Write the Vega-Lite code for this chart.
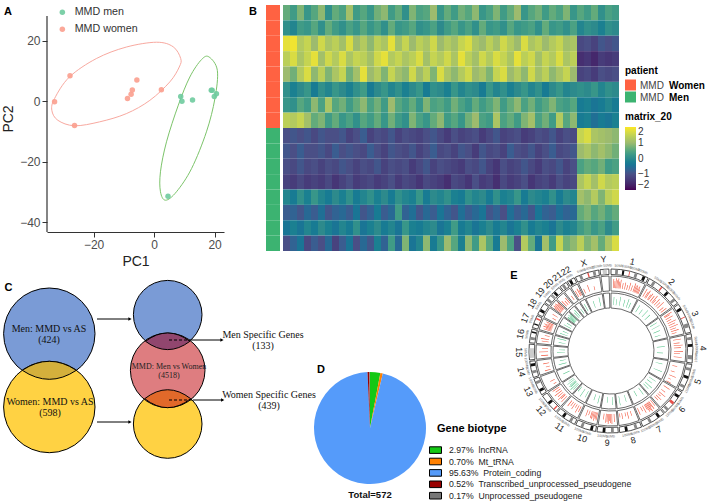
{"$schema":"https://vega.github.io/schema/vega-lite/v6.json","background":"white","padding":{"left":1,"top":2,"right":0,"bottom":0},"config":{"view":{"stroke":null},"font":"Liberation Sans"},"bounds":"flush","spacing":{"row":3,"column":0},"columns":7,"align":{"row":"each","column":"each"},"resolve":{"scale":{"fill":"independent","stroke":"independent","theta":"independent","radius":"independent"},"legend":{"fill":"independent","stroke":"independent"}},"datasets":{"chr":[{"n":"1","a":0,"b":27,"m":13.5,"o":13.5},{"n":"2","a":28,"b":54.3,"m":41.2,"o":41.2},{"n":"3","a":55.3,"b":76.8,"m":66,"o":66},{"n":"4","a":77.8,"b":98.5,"m":88.2,"o":88.2},{"n":"5","a":99.5,"b":119.2,"m":109.4,"o":-70.6},{"n":"6","a":120.2,"b":138.8,"m":129.5,"o":-50.5},{"n":"7","a":139.8,"b":157.1,"m":148.5,"o":-31.5},{"n":"8","a":158.1,"b":173.9,"m":166,"o":-14},{"n":"9","a":174.9,"b":189.9,"m":182.4,"o":2.4},{"n":"10","a":190.9,"b":205.5,"m":198.2,"o":18.2},{"n":"11","a":206.5,"b":221.2,"m":213.9,"o":33.9},{"n":"12","a":222.2,"b":236.7,"m":229.5,"o":49.5},{"n":"13","a":237.7,"b":250.1,"m":243.9,"o":63.9},{"n":"14","a":251.1,"b":262.7,"m":256.9,"o":76.9},{"n":"15","a":263.7,"b":274.8,"m":269.3,"o":89.3},{"n":"16","a":275.8,"b":285.6,"m":280.7,"o":-79.3},{"n":"17","a":286.6,"b":295.6,"m":291.1,"o":-68.9},{"n":"18","a":296.6,"b":305.3,"m":301,"o":-59},{"n":"19","a":306.3,"b":312.7,"m":309.5,"o":-50.5},{"n":"20","a":313.7,"b":320.7,"m":317.2,"o":-42.8},{"n":"21","a":321.7,"b":326.8,"m":324.3,"o":-35.7},{"n":"22","a":327.8,"b":333.3,"m":330.6,"o":-29.4},{"n":"X","a":334.3,"b":351.3,"m":342.8,"o":-17.2},{"n":"Y","a":352.3,"b":358.5,"m":355.4,"o":-4.6}]},"concat":[
{"width":177,"height":227,"layer":[
{"data":{"values":[{"g":"w","i":1,"x":8.8,"y":14.1},{"g":"w","i":1.5,"x":6.3,"y":18},{"g":"w","i":2,"x":0.8,"y":19.5},{"g":"w","i":3,"x":-9.2,"y":17.9},{"g":"w","i":4,"x":-19.1,"y":14.1},{"g":"w","i":5,"x":-28,"y":8},{"g":"w","i":6,"x":-32.9,"y":0.9},{"g":"w","i":7,"x":-33.8,"y":-3},{"g":"w","i":8,"x":-31.8,"y":-6.3},{"g":"w","i":9,"x":-26.3,"y":-8.1},{"g":"w","i":10,"x":-18,"y":-6.8},{"g":"w","i":11,"x":-9.2,"y":-4.1},{"g":"w","i":12,"x":-1.4,"y":0.3},{"g":"w","i":13,"x":5.2,"y":6.4},{"g":"w","i":14,"x":8.3,"y":11.3},{"g":"m","i":1,"x":18.2,"y":14.6},{"g":"m","i":2,"x":20.9,"y":10.2},{"g":"m","i":3,"x":20.1,"y":0.9},{"g":"m","i":4,"x":17.3,"y":-10.1},{"g":"m","i":5,"x":12.4,"y":-22.2},{"g":"m","i":6,"x":7.4,"y":-29.9},{"g":"m","i":7,"x":3.8,"y":-32.7},{"g":"m","i":8,"x":2.1,"y":-29.9},{"g":"m","i":9,"x":2.1,"y":-23.3},{"g":"m","i":10,"x":4.1,"y":-13.4},{"g":"m","i":11,"x":8,"y":-1.3},{"g":"m","i":12,"x":11.8,"y":8},{"g":"m","i":13,"x":15.7,"y":13.8}]},
"mark":{"type":"line","interpolate":"cardinal-closed","strokeWidth":1},
"encoding":{"x":{"field":"x","type":"quantitative","scale":{"domain":[-35.4,23.1]},"axis":{"values":[-20,0,20],"title":"PC1","grid":false,"domainColor":"#333","domainWidth":1.2,"tickColor":"#333","labelColor":"#4d4d4d","labelFontSize":12,"titleFontSize":14,"titleFontWeight":"normal","titleColor":"#222"}},"y":{"field":"y","type":"quantitative","scale":{"domain":[-43.2,31.8]},"axis":{"values":[-40,-20,0,20],"title":"PC2","grid":false,"domain":false,"tickColor":"#333","labelColor":"#4d4d4d","labelFontSize":12,"titleFontSize":14,"titleFontWeight":"normal","titleColor":"#222"}},"order":{"field":"i","type":"quantitative"},"stroke":{"field":"g","type":"nominal","scale":{"domain":["m","w"],"range":["#7CC46A","#F8A9A0"]},"legend":null}}},
{"data":{"values":[{"x":-35.4,"y":-43.2,"y2":28.2}]},"mark":{"type":"rule","color":"#333","strokeWidth":1.2},"encoding":{"x":{"field":"x","type":"quantitative","scale":{"domain":[-35.4,23.1]}},"y":{"field":"y","type":"quantitative","scale":{"domain":[-43.2,31.8]}},"y2":{"field":"y2"}}},
{"data":{"values":[{"g":"MMD women","x":-32.9,"y":-0.2},{"g":"MMD women","x":-27.8,"y":8.4},{"g":"MMD women","x":-26.3,"y":-8},{"g":"MMD women","x":-8.8,"y":0.9},{"g":"MMD women","x":-7.6,"y":2.3},{"g":"MMD women","x":-7.2,"y":3.7},{"g":"MMD women","x":-5.7,"y":7},{"g":"MMD women","x":2.4,"y":3.8},{"g":"MMD men","x":4.6,"y":-31.4},{"g":"MMD men","x":8.8,"y":1.6},{"g":"MMD men","x":9.2,"y":0},{"g":"MMD men","x":12.7,"y":0.4},{"g":"MMD men","x":18.9,"y":3.6},{"g":"MMD men","x":19.2,"y":3.6},{"g":"MMD men","x":20.6,"y":2.5},{"g":"MMD men","x":19.9,"y":1.6}]},
"mark":{"type":"point","filled":true,"size":30,"opacity":0.9},
"encoding":{"x":{"field":"x","type":"quantitative","scale":{"domain":[-35.4,23.1]}},"y":{"field":"y","type":"quantitative","scale":{"domain":[-43.2,31.8]}},"fill":{"field":"g","type":"nominal","scale":{"domain":["MMD men","MMD women"],"range":["#6FCB9F","#FB9F8E"]},"legend":{"orient":"none","legendX":10,"legendY":2,"title":null,"labelFontSize":10.7,"labelColor":"#333","symbolSize":30,"rowPadding":5,"labelOffset":7}}}},
{"data":{"values":[{"t":"A","x":-48.3,"y":29.6},{"t":"B","x":32.7,"y":29.6}]},"mark":{"type":"text","fontWeight":"bold","fontSize":11,"color":"black"},"encoding":{"x":{"field":"x","type":"quantitative","scale":{"domain":[-35.4,23.1]}},"y":{"field":"y","type":"quantitative","scale":{"domain":[-43.2,31.8]}},"text":{"field":"t"}}}
]},
{"width":42,"height":1,"data":{"values":[{"k":1}]},"mark":{"type":"point","opacity":0},"encoding":{}},
{"width":14,"height":246,"data":{"values":[{"r":1,"p":"w"},{"r":2,"p":"w"},{"r":3,"p":"w"},{"r":4,"p":"w"},{"r":5,"p":"w"},{"r":6,"p":"w"},{"r":7,"p":"w"},{"r":8,"p":"w"},{"r":9,"p":"m"},{"r":10,"p":"m"},{"r":11,"p":"m"},{"r":12,"p":"m"},{"r":13,"p":"m"},{"r":14,"p":"m"},{"r":15,"p":"m"},{"r":16,"p":"m"}]},"mark":"rect","encoding":{"y":{"field":"r","type":"ordinal","axis":null},"fill":{"field":"p","type":"nominal","scale":{"domain":["w","m"],"range":["#FF6242","#3CB371"]},"legend":null}}},
{"width":3,"height":1,"data":{"values":[{"k":1}]},"mark":{"type":"point","opacity":0},"encoding":{}},
{"width":336,"height":246,"data":{"values":[
{"r":1,"c":1,"v":0.6},{"r":1,"c":2,"v":0.3},{"r":1,"c":3,"v":0.8},{"r":1,"c":4,"v":0.2},{"r":1,"c":5,"v":0.5},{"r":1,"c":6,"v":0.9},{"r":1,"c":7,"v":0.1},{"r":1,"c":8,"v":0.6},{"r":1,"c":9,"v":0.4},{"r":1,"c":10,"v":1.1},{"r":1,"c":11,"v":0.3},{"r":1,"c":12,"v":0.5},{"r":1,"c":13,"v":0.2},{"r":1,"c":14,"v":0.7},{"r":1,"c":15,"v":0.9},{"r":1,"c":16,"v":0.3},{"r":1,"c":17,"v":0.6},{"r":1,"c":18,"v":0.1},{"r":1,"c":19,"v":0.8},{"r":1,"c":20,"v":0.4},{"r":1,"c":21,"v":0.5},{"r":1,"c":22,"v":1},{"r":1,"c":23,"v":0.2},{"r":1,"c":24,"v":0.6},{"r":1,"c":25,"v":0.3},{"r":1,"c":26,"v":0.7},{"r":1,"c":27,"v":0.5},{"r":1,"c":28,"v":0.9},{"r":1,"c":29,"v":0.2},{"r":1,"c":30,"v":0.4},{"r":1,"c":31,"v":0.8},{"r":1,"c":32,"v":0.3},{"r":1,"c":33,"v":0.6},{"r":1,"c":34,"v":1},{"r":1,"c":35,"v":0.2},{"r":1,"c":36,"v":0.5},{"r":1,"c":37,"v":0.7},{"r":1,"c":38,"v":0.3},{"r":1,"c":39,"v":0.6},{"r":1,"c":40,"v":0.4},{"r":1,"c":41,"v":0.8},{"r":1,"c":42,"v":0.2},{"r":1,"c":43,"v":0.5},{"r":1,"c":44,"v":0.3},{"r":1,"c":45,"v":0.6},{"r":1,"c":46,"v":0.1},{"r":1,"c":47,"v":0.4},{"r":1,"c":48,"v":0.3},
{"r":2,"c":1,"v":0.1},{"r":2,"c":2,"v":-0.1},{"r":2,"c":3,"v":0.3},{"r":2,"c":4,"v":0.2},{"r":2,"c":5,"v":0.5},{"r":2,"c":6,"v":0.1},{"r":2,"c":7,"v":0.6},{"r":2,"c":8,"v":0.3},{"r":2,"c":9,"v":0.1},{"r":2,"c":10,"v":0.4},{"r":2,"c":11,"v":0.2},{"r":2,"c":12,"v":0.5},{"r":2,"c":13,"v":0.2},{"r":2,"c":14,"v":0.4},{"r":2,"c":15,"v":0.1},{"r":2,"c":16,"v":0.6},{"r":2,"c":17,"v":0.2},{"r":2,"c":18,"v":0.3},{"r":2,"c":19,"v":0.5},{"r":2,"c":20,"v":0.1},{"r":2,"c":21,"v":0.2},{"r":2,"c":22,"v":0.4},{"r":2,"c":23,"v":0},{"r":2,"c":24,"v":0.3},{"r":2,"c":25,"v":0.5},{"r":2,"c":26,"v":0.2},{"r":2,"c":27,"v":0.4},{"r":2,"c":28,"v":0.1},{"r":2,"c":29,"v":0.6},{"r":2,"c":30,"v":0.2},{"r":2,"c":31,"v":0.3},{"r":2,"c":32,"v":0.1},{"r":2,"c":33,"v":0.5},{"r":2,"c":34,"v":0.2},{"r":2,"c":35,"v":0.3},{"r":2,"c":36,"v":0.4},{"r":2,"c":37,"v":0.1},{"r":2,"c":38,"v":0.6},{"r":2,"c":39,"v":0.2},{"r":2,"c":40,"v":0.3},{"r":2,"c":41,"v":0.1},{"r":2,"c":42,"v":0.4},{"r":2,"c":43,"v":-0.1},{"r":2,"c":44,"v":0.1},{"r":2,"c":45,"v":0},{"r":2,"c":46,"v":-0.2},{"r":2,"c":47,"v":0.1},{"r":2,"c":48,"v":0},
{"r":3,"c":1,"v":1.8},{"r":3,"c":2,"v":1.9},{"r":3,"c":3,"v":1.3},{"r":3,"c":4,"v":1.5},{"r":3,"c":5,"v":1},{"r":3,"c":6,"v":1.6},{"r":3,"c":7,"v":1.2},{"r":3,"c":8,"v":1.4},{"r":3,"c":9,"v":1.1},{"r":3,"c":10,"v":1.7},{"r":3,"c":11,"v":1},{"r":3,"c":12,"v":1.3},{"r":3,"c":13,"v":0.9},{"r":3,"c":14,"v":1.4},{"r":3,"c":15,"v":1.2},{"r":3,"c":16,"v":1.8},{"r":3,"c":17,"v":1.1},{"r":3,"c":18,"v":1.5},{"r":3,"c":19,"v":1},{"r":3,"c":20,"v":1.4},{"r":3,"c":21,"v":1.2},{"r":3,"c":22,"v":1.6},{"r":3,"c":23,"v":1},{"r":3,"c":24,"v":1.3},{"r":3,"c":25,"v":1.1},{"r":3,"c":26,"v":1.5},{"r":3,"c":27,"v":1.7},{"r":3,"c":28,"v":1.2},{"r":3,"c":29,"v":1},{"r":3,"c":30,"v":1.4},{"r":3,"c":31,"v":1.1},{"r":3,"c":32,"v":1.6},{"r":3,"c":33,"v":1.3},{"r":3,"c":34,"v":1},{"r":3,"c":35,"v":1.7},{"r":3,"c":36,"v":1.2},{"r":3,"c":37,"v":1.4},{"r":3,"c":38,"v":1},{"r":3,"c":39,"v":1.3},{"r":3,"c":40,"v":1.5},{"r":3,"c":41,"v":1.1},{"r":3,"c":42,"v":1.2},{"r":3,"c":43,"v":-1.1},{"r":3,"c":44,"v":-1},{"r":3,"c":45,"v":-1.2},{"r":3,"c":46,"v":-0.9},{"r":3,"c":47,"v":-1},{"r":3,"c":48,"v":-0.9},
{"r":4,"c":1,"v":1.4},{"r":4,"c":2,"v":1.7},{"r":4,"c":3,"v":1.2},{"r":4,"c":4,"v":1.5},{"r":4,"c":5,"v":1.8},{"r":4,"c":6,"v":1.1},{"r":4,"c":7,"v":1.6},{"r":4,"c":8,"v":1.3},{"r":4,"c":9,"v":1.7},{"r":4,"c":10,"v":1.2},{"r":4,"c":11,"v":1.5},{"r":4,"c":12,"v":1.4},{"r":4,"c":13,"v":1.1},{"r":4,"c":14,"v":1.6},{"r":4,"c":15,"v":1.8},{"r":4,"c":16,"v":1.3},{"r":4,"c":17,"v":1.5},{"r":4,"c":18,"v":1.2},{"r":4,"c":19,"v":1.4},{"r":4,"c":20,"v":1.7},{"r":4,"c":21,"v":1.1},{"r":4,"c":22,"v":1.5},{"r":4,"c":23,"v":1.3},{"r":4,"c":24,"v":1.6},{"r":4,"c":25,"v":1.2},{"r":4,"c":26,"v":1.8},{"r":4,"c":27,"v":1.4},{"r":4,"c":28,"v":1.1},{"r":4,"c":29,"v":1.6},{"r":4,"c":30,"v":1.3},{"r":4,"c":31,"v":1.7},{"r":4,"c":32,"v":1.5},{"r":4,"c":33,"v":1.2},{"r":4,"c":34,"v":1.8},{"r":4,"c":35,"v":1.4},{"r":4,"c":36,"v":1.6},{"r":4,"c":37,"v":1.1},{"r":4,"c":38,"v":1.5},{"r":4,"c":39,"v":1.3},{"r":4,"c":40,"v":1.7},{"r":4,"c":41,"v":1.2},{"r":4,"c":42,"v":1.4},{"r":4,"c":43,"v":-1.5},{"r":4,"c":44,"v":-1.4},{"r":4,"c":45,"v":-1.6},{"r":4,"c":46,"v":-1.3},{"r":4,"c":47,"v":-1.4},{"r":4,"c":48,"v":-1.3},
{"r":5,"c":1,"v":1},{"r":5,"c":2,"v":0.7},{"r":5,"c":3,"v":1.3},{"r":5,"c":4,"v":1.7},{"r":5,"c":5,"v":0.9},{"r":5,"c":6,"v":1.4},{"r":5,"c":7,"v":0.8},{"r":5,"c":8,"v":1.2},{"r":5,"c":9,"v":1.5},{"r":5,"c":10,"v":0.7},{"r":5,"c":11,"v":1.1},{"r":5,"c":12,"v":1.8},{"r":5,"c":13,"v":1},{"r":5,"c":14,"v":1.3},{"r":5,"c":15,"v":0.8},{"r":5,"c":16,"v":1.5},{"r":5,"c":17,"v":1.1},{"r":5,"c":18,"v":0.9},{"r":5,"c":19,"v":1.6},{"r":5,"c":20,"v":1},{"r":5,"c":21,"v":1.4},{"r":5,"c":22,"v":0.8},{"r":5,"c":23,"v":1.7},{"r":5,"c":24,"v":1.2},{"r":5,"c":25,"v":0.9},{"r":5,"c":26,"v":1.3},{"r":5,"c":27,"v":1.6},{"r":5,"c":28,"v":1},{"r":5,"c":29,"v":1.2},{"r":5,"c":30,"v":0.8},{"r":5,"c":31,"v":1.5},{"r":5,"c":32,"v":1.7},{"r":5,"c":33,"v":1},{"r":5,"c":34,"v":1.3},{"r":5,"c":35,"v":0.9},{"r":5,"c":36,"v":1.6},{"r":5,"c":37,"v":1.1},{"r":5,"c":38,"v":1.4},{"r":5,"c":39,"v":0.9},{"r":5,"c":40,"v":1.2},{"r":5,"c":41,"v":1.5},{"r":5,"c":42,"v":1},{"r":5,"c":43,"v":-1.2},{"r":5,"c":44,"v":-1.1},{"r":5,"c":45,"v":-1.3},{"r":5,"c":46,"v":-1},{"r":5,"c":47,"v":-1.1},{"r":5,"c":48,"v":-1},
{"r":6,"c":1,"v":0.1},{"r":6,"c":2,"v":-0.2},{"r":6,"c":3,"v":0},{"r":6,"c":4,"v":0.2},{"r":6,"c":5,"v":-0.3},{"r":6,"c":6,"v":0.1},{"r":6,"c":7,"v":-0.1},{"r":6,"c":8,"v":0.2},{"r":6,"c":9,"v":0},{"r":6,"c":10,"v":-0.2},{"r":6,"c":11,"v":0.1},{"r":6,"c":12,"v":0.3},{"r":6,"c":13,"v":-0.3},{"r":6,"c":14,"v":0},{"r":6,"c":15,"v":0.2},{"r":6,"c":16,"v":-0.1},{"r":6,"c":17,"v":0.1},{"r":6,"c":18,"v":-0.2},{"r":6,"c":19,"v":0},{"r":6,"c":20,"v":0.2},{"r":6,"c":21,"v":-0.3},{"r":6,"c":22,"v":0.1},{"r":6,"c":23,"v":0},{"r":6,"c":24,"v":-0.2},{"r":6,"c":25,"v":0.2},{"r":6,"c":26,"v":-0.1},{"r":6,"c":27,"v":0.1},{"r":6,"c":28,"v":0},{"r":6,"c":29,"v":-0.3},{"r":6,"c":30,"v":0.2},{"r":6,"c":31,"v":-0.1},{"r":6,"c":32,"v":0.1},{"r":6,"c":33,"v":-0.2},{"r":6,"c":34,"v":0},{"r":6,"c":35,"v":0.2},{"r":6,"c":36,"v":-0.1},{"r":6,"c":37,"v":0.1},{"r":6,"c":38,"v":-0.3},{"r":6,"c":39,"v":0},{"r":6,"c":40,"v":0.2},{"r":6,"c":41,"v":-0.1},{"r":6,"c":42,"v":0},{"r":6,"c":43,"v":0.1},{"r":6,"c":44,"v":0},{"r":6,"c":45,"v":0.2},{"r":6,"c":46,"v":-0.1},{"r":6,"c":47,"v":0.1},{"r":6,"c":48,"v":0},
{"r":7,"c":1,"v":0.2},{"r":7,"c":2,"v":0.1},{"r":7,"c":3,"v":0.5},{"r":7,"c":4,"v":0.3},{"r":7,"c":5,"v":0.9},{"r":7,"c":6,"v":0.4},{"r":7,"c":7,"v":1.2},{"r":7,"c":8,"v":0.5},{"r":7,"c":9,"v":0.7},{"r":7,"c":10,"v":0.3},{"r":7,"c":11,"v":0.6},{"r":7,"c":12,"v":0.9},{"r":7,"c":13,"v":0.4},{"r":7,"c":14,"v":0.7},{"r":7,"c":15,"v":0.3},{"r":7,"c":16,"v":1},{"r":7,"c":17,"v":0.5},{"r":7,"c":18,"v":0.3},{"r":7,"c":19,"v":0.6},{"r":7,"c":20,"v":0.2},{"r":7,"c":21,"v":0.8},{"r":7,"c":22,"v":0.4},{"r":7,"c":23,"v":0.5},{"r":7,"c":24,"v":0.3},{"r":7,"c":25,"v":0.7},{"r":7,"c":26,"v":0.4},{"r":7,"c":27,"v":0.2},{"r":7,"c":28,"v":0.6},{"r":7,"c":29,"v":0.3},{"r":7,"c":30,"v":0.5},{"r":7,"c":31,"v":0.8},{"r":7,"c":32,"v":0.3},{"r":7,"c":33,"v":0.6},{"r":7,"c":34,"v":0.9},{"r":7,"c":35,"v":0.4},{"r":7,"c":36,"v":0.7},{"r":7,"c":37,"v":0.3},{"r":7,"c":38,"v":0.5},{"r":7,"c":39,"v":0.8},{"r":7,"c":40,"v":0.4},{"r":7,"c":41,"v":0.3},{"r":7,"c":42,"v":0.5},{"r":7,"c":43,"v":-0.3},{"r":7,"c":44,"v":-0.2},{"r":7,"c":45,"v":-0.4},{"r":7,"c":46,"v":-0.3},{"r":7,"c":47,"v":-0.1},{"r":7,"c":48,"v":-0.3},
{"r":8,"c":1,"v":1.4},{"r":8,"c":2,"v":1.3},{"r":8,"c":3,"v":1.5},{"r":8,"c":4,"v":1.1},{"r":8,"c":5,"v":0.6},{"r":8,"c":6,"v":0.8},{"r":8,"c":7,"v":0.3},{"r":8,"c":8,"v":0.6},{"r":8,"c":9,"v":0.2},{"r":8,"c":10,"v":0.4},{"r":8,"c":11,"v":0.1},{"r":8,"c":12,"v":0.5},{"r":8,"c":13,"v":0.3},{"r":8,"c":14,"v":0.6},{"r":8,"c":15,"v":0.2},{"r":8,"c":16,"v":0.7},{"r":8,"c":17,"v":0.3},{"r":8,"c":18,"v":0.1},{"r":8,"c":19,"v":0.8},{"r":8,"c":20,"v":0.4},{"r":8,"c":21,"v":0.2},{"r":8,"c":22,"v":0.6},{"r":8,"c":23,"v":0.9},{"r":8,"c":24,"v":0.3},{"r":8,"c":25,"v":0.5},{"r":8,"c":26,"v":0.2},{"r":8,"c":27,"v":0.7},{"r":8,"c":28,"v":1},{"r":8,"c":29,"v":0.4},{"r":8,"c":30,"v":0.3},{"r":8,"c":31,"v":1.2},{"r":8,"c":32,"v":0.4},{"r":8,"c":33,"v":0.6},{"r":8,"c":34,"v":0.3},{"r":8,"c":35,"v":0.8},{"r":8,"c":36,"v":1.1},{"r":8,"c":37,"v":0.4},{"r":8,"c":38,"v":0.7},{"r":8,"c":39,"v":0.3},{"r":8,"c":40,"v":1.3},{"r":8,"c":41,"v":0.5},{"r":8,"c":42,"v":0.9},{"r":8,"c":43,"v":-0.3},{"r":8,"c":44,"v":-0.2},{"r":8,"c":45,"v":-0.5},{"r":8,"c":46,"v":-0.3},{"r":8,"c":47,"v":-0.4},{"r":8,"c":48,"v":-0.2},
{"r":9,"c":1,"v":-1},{"r":9,"c":2,"v":-0.9},{"r":9,"c":3,"v":-1},{"r":9,"c":4,"v":-0.9},{"r":9,"c":5,"v":-1.1},{"r":9,"c":6,"v":-0.9},{"r":9,"c":7,"v":-1},{"r":9,"c":8,"v":-1},{"r":9,"c":9,"v":-0.9},{"r":9,"c":10,"v":-1.2},{"r":9,"c":11,"v":-1},{"r":9,"c":12,"v":-0.8},{"r":9,"c":13,"v":-1.2},{"r":9,"c":14,"v":-1},{"r":9,"c":15,"v":-1.1},{"r":9,"c":16,"v":-0.9},{"r":9,"c":17,"v":-1.2},{"r":9,"c":18,"v":-1},{"r":9,"c":19,"v":-1.1},{"r":9,"c":20,"v":-1.2},{"r":9,"c":21,"v":-1},{"r":9,"c":22,"v":-0.9},{"r":9,"c":23,"v":-1.1},{"r":9,"c":24,"v":-1.3},{"r":9,"c":25,"v":-1},{"r":9,"c":26,"v":-1.2},{"r":9,"c":27,"v":-1.1},{"r":9,"c":28,"v":-1},{"r":9,"c":29,"v":-1.3},{"r":9,"c":30,"v":-1.1},{"r":9,"c":31,"v":-0.9},{"r":9,"c":32,"v":-1.2},{"r":9,"c":33,"v":-1.1},{"r":9,"c":34,"v":-1},{"r":9,"c":35,"v":-1.3},{"r":9,"c":36,"v":-1.2},{"r":9,"c":37,"v":-1},{"r":9,"c":38,"v":-1.1},{"r":9,"c":39,"v":-0.9},{"r":9,"c":40,"v":-1.2},{"r":9,"c":41,"v":-1},{"r":9,"c":42,"v":-1.1},{"r":9,"c":43,"v":1.5},{"r":9,"c":44,"v":1.7},{"r":9,"c":45,"v":1.2},{"r":9,"c":46,"v":1.1},{"r":9,"c":47,"v":1},{"r":9,"c":48,"v":0.9},
{"r":10,"c":1,"v":-0.9},{"r":10,"c":2,"v":-1},{"r":10,"c":3,"v":-0.8},{"r":10,"c":4,"v":-1},{"r":10,"c":5,"v":-1},{"r":10,"c":6,"v":-0.9},{"r":10,"c":7,"v":-1.1},{"r":10,"c":8,"v":-0.8},{"r":10,"c":9,"v":-1},{"r":10,"c":10,"v":-0.9},{"r":10,"c":11,"v":-1},{"r":10,"c":12,"v":-1.1},{"r":10,"c":13,"v":-0.8},{"r":10,"c":14,"v":-1},{"r":10,"c":15,"v":-1.2},{"r":10,"c":16,"v":-0.9},{"r":10,"c":17,"v":-1},{"r":10,"c":18,"v":-1.1},{"r":10,"c":19,"v":-0.9},{"r":10,"c":20,"v":-1.2},{"r":10,"c":21,"v":-1},{"r":10,"c":22,"v":-0.8},{"r":10,"c":23,"v":-1.1},{"r":10,"c":24,"v":-1},{"r":10,"c":25,"v":-1.2},{"r":10,"c":26,"v":-0.9},{"r":10,"c":27,"v":-1},{"r":10,"c":28,"v":-1.3},{"r":10,"c":29,"v":-0.9},{"r":10,"c":30,"v":-1.1},{"r":10,"c":31,"v":-1},{"r":10,"c":32,"v":-1.2},{"r":10,"c":33,"v":-0.8},{"r":10,"c":34,"v":-1},{"r":10,"c":35,"v":-1.1},{"r":10,"c":36,"v":-0.9},{"r":10,"c":37,"v":-1.2},{"r":10,"c":38,"v":-1},{"r":10,"c":39,"v":-0.8},{"r":10,"c":40,"v":-1.1},{"r":10,"c":41,"v":-1},{"r":10,"c":42,"v":-0.9},{"r":10,"c":43,"v":1},{"r":10,"c":44,"v":1.2},{"r":10,"c":45,"v":0.9},{"r":10,"c":46,"v":1.1},{"r":10,"c":47,"v":0.9},{"r":10,"c":48,"v":0.7},
{"r":11,"c":1,"v":-1},{"r":11,"c":2,"v":-1.1},{"r":11,"c":3,"v":-0.9},{"r":11,"c":4,"v":-1.1},{"r":11,"c":5,"v":-1},{"r":11,"c":6,"v":-1.2},{"r":11,"c":7,"v":-1},{"r":11,"c":8,"v":-1.1},{"r":11,"c":9,"v":-0.9},{"r":11,"c":10,"v":-1},{"r":11,"c":11,"v":-1.2},{"r":11,"c":12,"v":-1},{"r":11,"c":13,"v":-1.1},{"r":11,"c":14,"v":-0.9},{"r":11,"c":15,"v":-1.2},{"r":11,"c":16,"v":-1},{"r":11,"c":17,"v":-1.1},{"r":11,"c":18,"v":-1},{"r":11,"c":19,"v":-1.3},{"r":11,"c":20,"v":-1.1},{"r":11,"c":21,"v":-0.9},{"r":11,"c":22,"v":-1.2},{"r":11,"c":23,"v":-1},{"r":11,"c":24,"v":-1.1},{"r":11,"c":25,"v":-1.2},{"r":11,"c":26,"v":-1.3},{"r":11,"c":27,"v":-1},{"r":11,"c":28,"v":-1.1},{"r":11,"c":29,"v":-0.9},{"r":11,"c":30,"v":-1.2},{"r":11,"c":31,"v":-1.4},{"r":11,"c":32,"v":-1},{"r":11,"c":33,"v":-1.2},{"r":11,"c":34,"v":-1.1},{"r":11,"c":35,"v":-0.9},{"r":11,"c":36,"v":-1.1},{"r":11,"c":37,"v":-1.3},{"r":11,"c":38,"v":-1},{"r":11,"c":39,"v":-1.1},{"r":11,"c":40,"v":-0.9},{"r":11,"c":41,"v":-1.2},{"r":11,"c":42,"v":-1},{"r":11,"c":43,"v":0.4},{"r":11,"c":44,"v":0.6},{"r":11,"c":45,"v":0.5},{"r":11,"c":46,"v":0.7},{"r":11,"c":47,"v":0.3},{"r":11,"c":48,"v":0.4},
{"r":12,"c":1,"v":-1.2},{"r":12,"c":2,"v":-1.3},{"r":12,"c":3,"v":-1.1},{"r":12,"c":4,"v":-1.3},{"r":12,"c":5,"v":-1.2},{"r":12,"c":6,"v":-1.3},{"r":12,"c":7,"v":-1.1},{"r":12,"c":8,"v":-1.4},{"r":12,"c":9,"v":-1.2},{"r":12,"c":10,"v":-1},{"r":12,"c":11,"v":-1.3},{"r":12,"c":12,"v":-1.2},{"r":12,"c":13,"v":-1.1},{"r":12,"c":14,"v":-1.3},{"r":12,"c":15,"v":-1.2},{"r":12,"c":16,"v":-1},{"r":12,"c":17,"v":-1.3},{"r":12,"c":18,"v":-1.1},{"r":12,"c":19,"v":-1.2},{"r":12,"c":20,"v":-1.4},{"r":12,"c":21,"v":-1.1},{"r":12,"c":22,"v":-1.2},{"r":12,"c":23,"v":-1.3},{"r":12,"c":24,"v":-1.5},{"r":12,"c":25,"v":-1.1},{"r":12,"c":26,"v":-1.2},{"r":12,"c":27,"v":-1.4},{"r":12,"c":28,"v":-1},{"r":12,"c":29,"v":-1.3},{"r":12,"c":30,"v":-1.2},{"r":12,"c":31,"v":-1.5},{"r":12,"c":32,"v":-1.1},{"r":12,"c":33,"v":-1.3},{"r":12,"c":34,"v":-1.2},{"r":12,"c":35,"v":-1},{"r":12,"c":36,"v":-1.4},{"r":12,"c":37,"v":-1.2},{"r":12,"c":38,"v":-1.1},{"r":12,"c":39,"v":-1.3},{"r":12,"c":40,"v":-1},{"r":12,"c":41,"v":-1.2},{"r":12,"c":42,"v":-1.1},{"r":12,"c":43,"v":1.2},{"r":12,"c":44,"v":1.5},{"r":12,"c":45,"v":1.1},{"r":12,"c":46,"v":1.6},{"r":12,"c":47,"v":1.3},{"r":12,"c":48,"v":1.4},
{"r":13,"c":1,"v":-0.1},{"r":13,"c":2,"v":-0.3},{"r":13,"c":3,"v":0.1},{"r":13,"c":4,"v":-0.2},{"r":13,"c":5,"v":0.2},{"r":13,"c":6,"v":-0.1},{"r":13,"c":7,"v":-0.3},{"r":13,"c":8,"v":0},{"r":13,"c":9,"v":-0.2},{"r":13,"c":10,"v":0.1},{"r":13,"c":11,"v":-0.3},{"r":13,"c":12,"v":-0.1},{"r":13,"c":13,"v":0.1},{"r":13,"c":14,"v":-0.2},{"r":13,"c":15,"v":0},{"r":13,"c":16,"v":-0.3},{"r":13,"c":17,"v":0.1},{"r":13,"c":18,"v":-0.1},{"r":13,"c":19,"v":-0.2},{"r":13,"c":20,"v":0.2},{"r":13,"c":21,"v":-0.3},{"r":13,"c":22,"v":0},{"r":13,"c":23,"v":-0.1},{"r":13,"c":24,"v":0.1},{"r":13,"c":25,"v":-0.2},{"r":13,"c":26,"v":-0.3},{"r":13,"c":27,"v":0.1},{"r":13,"c":28,"v":-0.1},{"r":13,"c":29,"v":0},{"r":13,"c":30,"v":-0.3},{"r":13,"c":31,"v":0.1},{"r":13,"c":32,"v":-0.2},{"r":13,"c":33,"v":-0.1},{"r":13,"c":34,"v":0.2},{"r":13,"c":35,"v":-0.3},{"r":13,"c":36,"v":0},{"r":13,"c":37,"v":-0.1},{"r":13,"c":38,"v":-0.2},{"r":13,"c":39,"v":0.1},{"r":13,"c":40,"v":-0.3},{"r":13,"c":41,"v":0},{"r":13,"c":42,"v":-0.1},{"r":13,"c":43,"v":1.1},{"r":13,"c":44,"v":0.9},{"r":13,"c":45,"v":1.3},{"r":13,"c":46,"v":0.8},{"r":13,"c":47,"v":1.4},{"r":13,"c":48,"v":1.6},
{"r":14,"c":1,"v":-0.8},{"r":14,"c":2,"v":-0.7},{"r":14,"c":3,"v":-0.9},{"r":14,"c":4,"v":-0.6},{"r":14,"c":5,"v":-0.8},{"r":14,"c":6,"v":-0.5},{"r":14,"c":7,"v":-0.9},{"r":14,"c":8,"v":-0.7},{"r":14,"c":9,"v":-0.6},{"r":14,"c":10,"v":-0.8},{"r":14,"c":11,"v":-0.4},{"r":14,"c":12,"v":-0.9},{"r":14,"c":13,"v":-0.7},{"r":14,"c":14,"v":-0.3},{"r":14,"c":15,"v":-0.8},{"r":14,"c":16,"v":-0.6},{"r":14,"c":17,"v":0.3},{"r":14,"c":18,"v":-0.7},{"r":14,"c":19,"v":-0.5},{"r":14,"c":20,"v":-0.9},{"r":14,"c":21,"v":-0.6},{"r":14,"c":22,"v":-0.8},{"r":14,"c":23,"v":-0.4},{"r":14,"c":24,"v":-0.7},{"r":14,"c":25,"v":-0.9},{"r":14,"c":26,"v":-0.5},{"r":14,"c":27,"v":-0.8},{"r":14,"c":28,"v":-0.6},{"r":14,"c":29,"v":-0.4},{"r":14,"c":30,"v":-0.9},{"r":14,"c":31,"v":-0.7},{"r":14,"c":32,"v":-1},{"r":14,"c":33,"v":-0.5},{"r":14,"c":34,"v":-0.8},{"r":14,"c":35,"v":-0.6},{"r":14,"c":36,"v":-0.9},{"r":14,"c":37,"v":-0.4},{"r":14,"c":38,"v":-0.7},{"r":14,"c":39,"v":-0.8},{"r":14,"c":40,"v":-0.5},{"r":14,"c":41,"v":-0.7},{"r":14,"c":42,"v":-0.6},{"r":14,"c":43,"v":0.6},{"r":14,"c":44,"v":0.8},{"r":14,"c":45,"v":0.5},{"r":14,"c":46,"v":0.7},{"r":14,"c":47,"v":0.4},{"r":14,"c":48,"v":0.6},
{"r":15,"c":1,"v":-0.4},{"r":15,"c":2,"v":-0.2},{"r":15,"c":3,"v":-0.4},{"r":15,"c":4,"v":-0.1},{"r":15,"c":5,"v":-0.3},{"r":15,"c":6,"v":0},{"r":15,"c":7,"v":-0.2},{"r":15,"c":8,"v":-0.4},{"r":15,"c":9,"v":-0.1},{"r":15,"c":10,"v":-0.3},{"r":15,"c":11,"v":0.1},{"r":15,"c":12,"v":-0.4},{"r":15,"c":13,"v":-0.2},{"r":15,"c":14,"v":0},{"r":15,"c":15,"v":-0.3},{"r":15,"c":16,"v":-0.1},{"r":15,"c":17,"v":-0.4},{"r":15,"c":18,"v":0.2},{"r":15,"c":19,"v":-0.2},{"r":15,"c":20,"v":-0.3},{"r":15,"c":21,"v":-0.1},{"r":15,"c":22,"v":0},{"r":15,"c":23,"v":-0.4},{"r":15,"c":24,"v":-0.2},{"r":15,"c":25,"v":0.3},{"r":15,"c":26,"v":-0.3},{"r":15,"c":27,"v":-0.1},{"r":15,"c":28,"v":-0.4},{"r":15,"c":29,"v":-0.2},{"r":15,"c":30,"v":0},{"r":15,"c":31,"v":-0.3},{"r":15,"c":32,"v":-0.1},{"r":15,"c":33,"v":-0.4},{"r":15,"c":34,"v":-0.2},{"r":15,"c":35,"v":0.1},{"r":15,"c":36,"v":-0.3},{"r":15,"c":37,"v":-0.1},{"r":15,"c":38,"v":-0.2},{"r":15,"c":39,"v":-0.4},{"r":15,"c":40,"v":0},{"r":15,"c":41,"v":-0.2},{"r":15,"c":42,"v":-0.1},{"r":15,"c":43,"v":0.3},{"r":15,"c":44,"v":0.5},{"r":15,"c":45,"v":0.2},{"r":15,"c":46,"v":0.4},{"r":15,"c":47,"v":0},{"r":15,"c":48,"v":0.3},
{"r":16,"c":1,"v":-1},{"r":16,"c":2,"v":-0.7},{"r":16,"c":3,"v":-0.4},{"r":16,"c":4,"v":-1.1},{"r":16,"c":5,"v":-0.8},{"r":16,"c":6,"v":-1},{"r":16,"c":7,"v":-0.6},{"r":16,"c":8,"v":-1.2},{"r":16,"c":9,"v":-0.8},{"r":16,"c":10,"v":-0.4},{"r":16,"c":11,"v":-1},{"r":16,"c":12,"v":-0.6},{"r":16,"c":13,"v":-0.9},{"r":16,"c":14,"v":-0.2},{"r":16,"c":15,"v":-0.7},{"r":16,"c":16,"v":0.3},{"r":16,"c":17,"v":-0.6},{"r":16,"c":18,"v":0.8},{"r":16,"c":19,"v":-0.4},{"r":16,"c":20,"v":-0.1},{"r":16,"c":21,"v":0.9},{"r":16,"c":22,"v":-0.3},{"r":16,"c":23,"v":0.2},{"r":16,"c":24,"v":1},{"r":16,"c":25,"v":0.5},{"r":16,"c":26,"v":-0.2},{"r":16,"c":27,"v":0.9},{"r":16,"c":28,"v":0.3},{"r":16,"c":29,"v":1.2},{"r":16,"c":30,"v":0.5},{"r":16,"c":31,"v":-0.3},{"r":16,"c":32,"v":1},{"r":16,"c":33,"v":0.4},{"r":16,"c":34,"v":-1},{"r":16,"c":35,"v":1.3},{"r":16,"c":36,"v":0.6},{"r":16,"c":37,"v":-0.4},{"r":16,"c":38,"v":1.1},{"r":16,"c":39,"v":0.3},{"r":16,"c":40,"v":1.5},{"r":16,"c":41,"v":0.7},{"r":16,"c":42,"v":0.9},{"r":16,"c":43,"v":1.4},{"r":16,"c":44,"v":0.8},{"r":16,"c":45,"v":1.1},{"r":16,"c":46,"v":0.6},{"r":16,"c":47,"v":1.2},{"r":16,"c":48,"v":1.7}
]},"mark":"rect","encoding":{"x":{"field":"c","type":"ordinal","axis":null},"y":{"field":"r","type":"ordinal","axis":null},"fill":{"field":"v","type":"quantitative","scale":{"domain":[-2,-1,0,1,2],"range":["#440154","#4a4f86","#2d8a8c","#9dbb6e","#fde725"]},"legend":{"orient":"none","legendX":342,"legendY":107,"title":"matrix_20","titleFontSize":10,"titleFontWeight":"bold","titleColor":"black","titlePadding":5,"gradientLength":63,"gradientThickness":11,"values":[-2,-1,0,1,2],"labelFontSize":10,"labelColor":"#333","gradientStrokeColor":"#ccc"}}}},
{"width":3,"height":1,"data":{"values":[{"k":1}]},"mark":{"type":"point","opacity":0},"encoding":{}},
{"width":86,"height":246,"encoding":{"x":{"field":"x","type":"quantitative","scale":{"domain":[622,708]},"axis":null},"y":{"field":"y","type":"quantitative","scale":{"domain":[249,3]},"axis":null}},"layer":[
{"data":{"values":[{"x":630.5,"y":83,"p":"w"},{"x":630.5,"y":95,"p":"m"}]},"mark":{"type":"point","shape":"square","filled":true,"size":121,"opacity":1},"encoding":{"fill":{"field":"p","type":"nominal","scale":{"domain":["w","m"],"range":["#FF6242","#3CB371"]},"legend":null}}},
{"data":{"values":[{"x":640,"y":84,"t":"MMD"},{"x":640,"y":96,"t":"MMD"}]},"mark":{"type":"text","align":"left","fontSize":10,"color":"#444"},"encoding":{"text":{"field":"t"}}},
{"data":{"values":[{"x":669,"y":84,"t":"Women"},{"x":669,"y":96,"t":"Men"},{"x":625,"y":69,"t":"patient"}]},"mark":{"type":"text","align":"left","fontSize":10,"fontWeight":"bold","color":"black"},"encoding":{"text":{"field":"t"}}}
]},
{"width":177,"height":250,"encoding":{"x":{"field":"x","type":"quantitative","scale":{"domain":[47,224]},"axis":null},"y":{"field":"y","type":"quantitative","scale":{"domain":[502,252]},"axis":null},"fill":{"field":"set","type":"nominal","scale":{"domain":["blue","yellow","red","lensL","lensT","lensB"],"range":["#7A9BD6","#FFD243","#DE7D80","#D4B03C","#91466E","#E1692A"]},"legend":null}},"layer":[
{"data":{"values":[{"x":49.3,"y":331.7,"set":"blue"},{"x":49.3,"y":405,"set":"yellow"}]},"mark":{"type":"point","shape":"circle","filled":true,"size":8354,"opacity":1,"stroke":"black","strokeWidth":1}},
{"data":{"values":[{"x":49.3,"y":368.3,"set":"lensL"}]},"mark":{"type":"point","shape":"M-1,0Q0,-0.667,1,0Q0,0.667,-1,0Z","filled":true,"size":2916,"opacity":1,"stroke":"black","strokeWidth":1}},
{"data":{"values":[{"x":167.7,"y":312.7,"set":"blue"},{"x":167.7,"y":422,"set":"yellow"}]},"mark":{"type":"point","shape":"circle","filled":true,"size":4706,"opacity":1,"stroke":"black","strokeWidth":1}},
{"data":{"values":[{"x":167.7,"y":368.3,"set":"red"}]},"mark":{"type":"point","shape":"circle","filled":true,"size":5565,"opacity":1,"stroke":"black","strokeWidth":1}},
{"data":{"values":[{"x":167.7,"y":339.3,"set":"lensT"}]},"mark":{"type":"point","shape":"M-1,0Q0,-0.75,1,0Q0,0.75,-1,0Z","filled":true,"size":1971,"opacity":1,"stroke":"black","strokeWidth":1}},
{"data":{"values":[{"x":167.7,"y":396.7,"set":"lensB"}]},"mark":{"type":"point","shape":"M-1,0Q0,-0.78,1,0Q0,0.78,-1,0Z","filled":true,"size":2116,"opacity":1,"stroke":"black","strokeWidth":1}},
{"data":{"values":[{"x":97,"x2":130,"y":317},{"x":97,"x2":130,"y":420},{"x":190,"x2":222,"y":338},{"x":193,"x2":222.7,"y":398}]},"mark":{"type":"rule","color":"black","strokeWidth":1},"encoding":{"x2":{"field":"x2"},"fill":{"value":null}}},
{"data":{"values":[{"x":169,"x2":190,"y":338},{"x":169,"x2":193,"y":398}]},"mark":{"type":"rule","color":"black","strokeWidth":1,"strokeDash":[3,2]},"encoding":{"x2":{"field":"x2"},"fill":{"value":null}}},
{"data":{"values":[{"x":130,"y":317},{"x":130,"y":420},{"x":222,"y":338},{"x":222.7,"y":398}]},"mark":{"type":"point","shape":"triangle-right","filled":true,"size":14,"opacity":1,"color":"black"},"encoding":{"fill":{"value":"black"}}},
{"data":{"values":[{"x":49,"y":327,"t":"Men: MMD vs AS"},{"x":49,"y":337.5,"t":"(424)"},{"x":50,"y":400,"t":"Women: MMD vs AS"},{"x":50,"y":411,"t":"(598)"},{"x":263,"y":333,"t":"Men Specific Genes"},{"x":263,"y":344,"t":"(133)"},{"x":269,"y":392.7,"t":"Women Specific Genes"},{"x":269,"y":404,"t":"(439)"}]},"mark":{"type":"text","font":"Liberation Serif","fontSize":10,"color":"#111"},"encoding":{"text":{"field":"t"},"fill":{"value":"#111"}}},
{"data":{"values":[{"x":169,"y":364.7,"t":"MMD: Men vs Women"},{"x":169,"y":373.5,"t":"(4518)"}]},"mark":{"type":"text","font":"Liberation Serif","fontSize":8,"color":"#222"},"encoding":{"text":{"field":"t"},"fill":{"value":"#222"}}},
{"data":{"values":[{"x":8.5,"y":286,"t":"C"}]},"mark":{"type":"text","fontSize":11,"fontWeight":"bold"},"encoding":{"text":{"field":"t"},"fill":{"value":"black"}}}
]},
{"width":42,"height":250,"layer":[
{"data":{"values":[{"l":"2.97%\u00a0\u00a0lncRNA","a":0,"b":2.97},{"l":"0.70%\u00a0\u00a0Mt_tRNA","a":2.97,"b":3.67},{"l":"95.63%\u00a0\u00a0Protein_coding","a":3.67,"b":99.3},{"l":"0.52%\u00a0\u00a0Transcribed_unprocessed_pseudogene","a":99.3,"b":99.82},{"l":"0.17%\u00a0\u00a0Unprocessed_pseudogene","a":99.82,"b":100}]},"mark":{"type":"arc","outerRadius":56},"encoding":{"x":{"datum":370,"type":"quantitative","scale":{"domain":[224,266]},"axis":null},"y":{"datum":426,"type":"quantitative","scale":{"domain":[502,252]},"axis":null},"theta":{"field":"a","type":"quantitative","stack":null,"scale":{"domain":[0,100]}},"theta2":{"field":"b"},"fill":{"field":"l","type":"nominal","scale":{"domain":["2.97%\u00a0\u00a0lncRNA","0.70%\u00a0\u00a0Mt_tRNA","95.63%\u00a0\u00a0Protein_coding","0.52%\u00a0\u00a0Transcribed_unprocessed_pseudogene","0.17%\u00a0\u00a0Unprocessed_pseudogene"],"range":["#14C814","#FF8000","#559BFA","#990000","#777777"]},"legend":{"orient":"none","legendX":205,"legendY":191,"title":null,"symbolType":"M-1,-0.55H1V0.55H-1Z","symbolSize":144,"symbolStrokeColor":"black","symbolStrokeWidth":1,"labelFontSize":8.7,"labelColor":"#222","clipHeight":10.2,"rowPadding":0.4,"labelLimit":260,"labelOffset":7}}}},
{"data":{"values":[{"x":370,"y":493,"t":"Total=572"}]},"mark":{"type":"text","fontSize":9.5,"fontWeight":"bold","color":"#111"},"encoding":{"x":{"field":"x","type":"quantitative","scale":{"domain":[224,266]},"axis":null},"y":{"field":"y","type":"quantitative","scale":{"domain":[502,252]},"axis":null},"text":{"field":"t"}}},
{"data":{"values":[{"x":437,"y":427,"t":"Gene biotype"},{"x":317,"y":368,"t":"D"}]},"mark":{"type":"text","align":"left","fontSize":11,"fontWeight":"bold","color":"black"},"encoding":{"x":{"field":"x","type":"quantitative","scale":{"domain":[224,266]},"axis":null},"y":{"field":"y","type":"quantitative","scale":{"domain":[502,252]},"axis":null},"text":{"field":"t"}}}
]},
{"width":14,"height":250,"encoding":{"x":{"datum":611,"type":"quantitative","scale":{"domain":[266,280]},"axis":null},"y":{"datum":349,"type":"quantitative","scale":{"domain":[502,252]},"axis":null}},"layer":[
{"data":{"name":"chr"},"mark":{"type":"arc","innerRadius":43,"outerRadius":58,"fill":"white","stroke":"#444","strokeWidth":0.8},"encoding":{"theta":{"field":"a","type":"quantitative","stack":null,"scale":{"domain":[0,360]}},"theta2":{"field":"b"}}},
{"data":{"name":"chr"},"mark":{"type":"arc","innerRadius":60,"outerRadius":75,"fill":"white","stroke":"#444","strokeWidth":0.8},"encoding":{"theta":{"field":"a","type":"quantitative","stack":null},"theta2":{"field":"b"}}},
{"data":{"name":"chr"},"mark":{"type":"arc","innerRadius":76.5,"outerRadius":82,"fill":"white","stroke":"#222","strokeWidth":0.8},"encoding":{"theta":{"field":"a","type":"quantitative","stack":null},"theta2":{"field":"b"}}},
{"data":{"values":[{"a":3,"b":5,"g":"m"},{"a":8,"b":9.5,"g":"d"},{"a":13,"b":13.6,"g":"c"},{"a":17,"b":19,"g":"m"},{"a":23,"b":25,"g":"d"},{"a":31,"b":33,"g":"m"},{"a":38,"b":39,"g":"c"},{"a":43,"b":45,"g":"d"},{"a":50,"b":52,"g":"m"},{"a":58,"b":60,"g":"d"},{"a":65,"b":65.6,"g":"c"},{"a":70,"b":73,"g":"m"},{"a":80,"b":82,"g":"m"},{"a":85,"b":87,"g":"d"},{"a":93,"b":96,"g":"m"},{"a":102,"b":104,"g":"m"},{"a":108,"b":110,"g":"d"},{"a":115,"b":117,"g":"m"},{"a":123,"b":125,"g":"d"},{"a":129,"b":131,"g":"c"},{"a":135,"b":137,"g":"m"},{"a":143,"b":145,"g":"d"},{"a":150,"b":152,"g":"m"},{"a":161,"b":163,"g":"m"},{"a":168,"b":170,"g":"d"},{"a":178,"b":180,"g":"m"},{"a":184,"b":186,"g":"d"},{"a":193,"b":195,"g":"d"},{"a":200,"b":202,"g":"m"},{"a":209,"b":211,"g":"m"},{"a":215,"b":217,"g":"d"},{"a":224,"b":225,"g":"c"},{"a":229,"b":231,"g":"d"},{"a":240,"b":242,"g":"d"},{"a":246,"b":248,"g":"m"},{"a":254,"b":256,"g":"m"},{"a":259,"b":261,"g":"d"},{"a":265,"b":272,"g":"l"},{"a":278,"b":280,"g":"m"},{"a":283,"b":284,"g":"d"},{"a":289,"b":290,"g":"d"},{"a":293,"b":294,"g":"c"},{"a":299,"b":301,"g":"d"},{"a":308,"b":310,"g":"m"},{"a":315,"b":317,"g":"d"},{"a":323,"b":325,"g":"m"},{"a":329,"b":331,"g":"d"},{"a":337,"b":339,"g":"m"},{"a":343,"b":344,"g":"c"},{"a":347,"b":349,"g":"m"},{"a":354,"b":357,"g":"l"}]},"mark":{"type":"arc","innerRadius":77,"outerRadius":81.5},"encoding":{"theta":{"field":"a","type":"quantitative","stack":null},"theta2":{"field":"b"},"fill":{"field":"g","type":"nominal","scale":{"domain":["l","m","d","c"],"range":["#cccccc","#888888","#111111","#e8504a"]},"legend":null}}},
{"data":{"values":[{"a":2,"b":2.5,"r":72},{"a":3,"b":3.5,"r":70},{"a":4,"b":4.5,"r":73},{"a":5,"b":5.5,"r":71},{"a":6,"b":6.5,"r":73},{"a":7,"b":7.5,"r":70},{"a":8,"b":8.5,"r":72},{"a":10,"b":10.5,"r":69},{"a":12,"b":12.5,"r":70},{"a":14,"b":14.5,"r":68},{"a":16,"b":16.5,"r":71},{"a":18,"b":18.5,"r":69},{"a":20,"b":20.5,"r":72},{"a":21,"b":21.5,"r":70},{"a":22,"b":22.5,"r":71},{"a":23,"b":23.5,"r":69},{"a":24,"b":24.5,"r":71},{"a":25,"b":25.5,"r":68},{"a":30,"b":30.5,"r":72},{"a":32,"b":32.5,"r":70},{"a":33,"b":33.5,"r":72},{"a":35,"b":35.5,"r":69},{"a":36,"b":36.5,"r":71},{"a":38,"b":38.5,"r":70},{"a":40,"b":40.5,"r":72},{"a":41,"b":41.5,"r":68},{"a":43,"b":43.5,"r":71},{"a":45,"b":45.5,"r":69},{"a":47,"b":47.5,"r":72},{"a":50,"b":50.5,"r":68},{"a":52,"b":52.5,"r":70},{"a":57,"b":57.5,"r":72},{"a":58,"b":58.5,"r":69},{"a":60,"b":60.5,"r":71},{"a":62,"b":62.5,"r":68},{"a":64,"b":64.5,"r":72},{"a":66,"b":66.5,"r":70},{"a":68,"b":68.5,"r":72},{"a":70,"b":70.5,"r":69},{"a":72,"b":72.5,"r":71},{"a":74,"b":74.5,"r":68},{"a":80,"b":80.5,"r":71},{"a":83,"b":83.5,"r":69},{"a":85,"b":85.5,"r":72},{"a":87,"b":87.5,"r":70},{"a":90,"b":90.5,"r":72},{"a":92,"b":92.5,"r":69},{"a":95,"b":95.5,"r":71},{"a":103,"b":103.5,"r":68},{"a":108,"b":108.5,"r":67},{"a":112,"b":112.5,"r":70},{"a":115,"b":115.5,"r":66},{"a":118,"b":118.5,"r":68},{"a":123,"b":123.5,"r":70},{"a":127,"b":127.5,"r":68},{"a":130,"b":130.5,"r":71},{"a":132,"b":132.5,"r":67},{"a":134,"b":134.5,"r":70},{"a":136,"b":136.5,"r":68},{"a":141,"b":141.5,"r":70},{"a":143,"b":143.5,"r":72},{"a":144,"b":144.5,"r":69},{"a":145,"b":145.5,"r":73},{"a":146,"b":146.5,"r":71},{"a":147,"b":147.5,"r":72},{"a":148,"b":148.5,"r":69},{"a":150,"b":150.5,"r":71},{"a":152,"b":152.5,"r":68},{"a":155,"b":155.5,"r":70},{"a":162,"b":162.5,"r":68},{"a":165,"b":165.5,"r":70},{"a":167,"b":167.5,"r":67},{"a":170,"b":170.5,"r":69},{"a":172,"b":172.5,"r":67},{"a":177,"b":177.5,"r":71},{"a":179,"b":179.5,"r":73},{"a":180,"b":180.5,"r":72},{"a":181,"b":181.5,"r":70},{"a":182,"b":182.5,"r":73},{"a":183,"b":183.5,"r":71},{"a":184,"b":184.5,"r":72},{"a":186,"b":186.5,"r":69},{"a":192,"b":192.5,"r":71},{"a":193,"b":193.5,"r":70},{"a":194,"b":194.5,"r":72},{"a":195,"b":195.5,"r":69},{"a":196,"b":196.5,"r":71},{"a":197,"b":197.5,"r":70},{"a":199,"b":199.5,"r":68},{"a":201,"b":201.5,"r":70},{"a":208,"b":208.5,"r":69},{"a":210,"b":210.5,"r":71},{"a":212,"b":212.5,"r":67},{"a":214,"b":214.5,"r":70},{"a":216,"b":216.5,"r":68},{"a":218,"b":218.5,"r":70},{"a":224,"b":224.5,"r":71},{"a":226,"b":226.5,"r":69},{"a":227,"b":227.5,"r":72},{"a":229,"b":229.5,"r":70},{"a":231,"b":231.5,"r":72},{"a":233,"b":233.5,"r":69},{"a":235,"b":235.5,"r":71},{"a":240,"b":240.5,"r":66},{"a":243,"b":243.5,"r":68},{"a":253,"b":253.5,"r":69},{"a":256,"b":256.5,"r":67},{"a":259,"b":259.5,"r":69},{"a":266,"b":266.5,"r":70},{"a":269,"b":269.5,"r":72},{"a":272,"b":272.5,"r":69},{"a":278,"b":278.5,"r":70},{"a":280,"b":280.5,"r":71},{"a":283,"b":283.5,"r":68},{"a":288,"b":288.5,"r":71},{"a":289,"b":289.5,"r":69},{"a":290,"b":290.5,"r":72},{"a":291,"b":291.5,"r":70},{"a":292,"b":292.5,"r":72},{"a":293,"b":293.5,"r":69},{"a":294,"b":294.5,"r":71},{"a":299,"b":299.5,"r":67},{"a":302,"b":302.5,"r":69},{"a":307,"b":307.5,"r":71},{"a":308,"b":308.5,"r":73},{"a":309,"b":309.5,"r":72},{"a":310,"b":310.5,"r":73},{"a":311,"b":311.5,"r":71},{"a":312,"b":312.5,"r":72},{"a":315,"b":315.5,"r":70},{"a":317,"b":317.5,"r":68},{"a":319,"b":319.5,"r":70},{"a":324,"b":324.5,"r":68},{"a":329,"b":329.5,"r":70},{"a":331,"b":331.5,"r":71},{"a":332,"b":332.5,"r":69},{"a":336,"b":336.5,"r":68},{"a":340,"b":340.5,"r":70},{"a":345,"b":345.5,"r":67}]},"mark":{"type":"arc","innerRadius":63,"fill":"#F2553D"},"encoding":{"theta":{"field":"a","type":"quantitative","stack":null},"theta2":{"field":"b"},"radius":{"field":"r","type":"quantitative","scale":{"type":"linear","domain":[0,100],"range":[0,100]}}}},
{"data":{"values":[{"a":3,"b":3.5,"r":54},{"a":6,"b":6.5,"r":52},{"a":10,"b":10.5,"r":55},{"a":15,"b":15.5,"r":53},{"a":19,"b":19.5,"r":55},{"a":22,"b":22.5,"r":52},{"a":32,"b":32.5,"r":54},{"a":37,"b":37.5,"r":52},{"a":42,"b":42.5,"r":55},{"a":47,"b":47.5,"r":53},{"a":58,"b":58.5,"r":54},{"a":62,"b":62.5,"r":55},{"a":67,"b":67.5,"r":53},{"a":72,"b":72.5,"r":52},{"a":85,"b":85.5,"r":54},{"a":92,"b":92.5,"r":52},{"a":104,"b":104.5,"r":53},{"a":112,"b":112.5,"r":55},{"a":124,"b":124.5,"r":54},{"a":128,"b":128.5,"r":52},{"a":132,"b":132.5,"r":55},{"a":135,"b":135.5,"r":53},{"a":143,"b":143.5,"r":54},{"a":150,"b":150.5,"r":52},{"a":163,"b":163.5,"r":53},{"a":170,"b":170.5,"r":55},{"a":178,"b":178.5,"r":54},{"a":184,"b":184.5,"r":52},{"a":194,"b":194.5,"r":54},{"a":199,"b":199.5,"r":52},{"a":209,"b":209.5,"r":53},{"a":214,"b":214.5,"r":55},{"a":219,"b":219.5,"r":52},{"a":224,"b":224.5,"r":54},{"a":226,"b":226.5,"r":56},{"a":228,"b":228.5,"r":54},{"a":229,"b":229.5,"r":55},{"a":230,"b":230.5,"r":53},{"a":232,"b":232.5,"r":55},{"a":234,"b":234.5,"r":52},{"a":244,"b":244.5,"r":53},{"a":255,"b":255.5,"r":54},{"a":259,"b":259.5,"r":52},{"a":268,"b":268.5,"r":54},{"a":271,"b":271.5,"r":52},{"a":279,"b":279.5,"r":53},{"a":283,"b":283.5,"r":55},{"a":289,"b":289.5,"r":54},{"a":292,"b":292.5,"r":52},{"a":299,"b":299.5,"r":54},{"a":302,"b":302.5,"r":52},{"a":307,"b":307.5,"r":54},{"a":308,"b":308.5,"r":55},{"a":309,"b":309.5,"r":53},{"a":310,"b":310.5,"r":56},{"a":311,"b":311.5,"r":54},{"a":312,"b":312.5,"r":55},{"a":316,"b":316.5,"r":53},{"a":318,"b":318.5,"r":55},{"a":324,"b":324.5,"r":52},{"a":330,"b":330.5,"r":54},{"a":340,"b":340.5,"r":53},{"a":347,"b":347.5,"r":55}]},"mark":{"type":"arc","innerRadius":46,"fill":"#3DBB78"},"encoding":{"theta":{"field":"a","type":"quantitative","stack":null},"theta2":{"field":"b"},"radius":{"field":"r","type":"quantitative"}}},
{"data":{"values":[{"t":5.4,"l":"50Mb","o":5.4},{"t":10.9,"l":"100Mb","o":10.9},{"t":16.3,"l":"150Mb","o":16.3},{"t":21.8,"l":"200Mb","o":21.8},{"t":33.4,"l":"50Mb","o":33.4},{"t":38.9,"l":"100Mb","o":38.9},{"t":44.3,"l":"150Mb","o":44.3},{"t":49.8,"l":"200Mb","o":49.8},{"t":60.7,"l":"50Mb","o":60.7},{"t":66.2,"l":"100Mb","o":66.2},{"t":71.6,"l":"150Mb","o":71.6},{"t":83.2,"l":"50Mb","o":83.2},{"t":88.7,"l":"100Mb","o":88.7},{"t":94.1,"l":"150Mb","o":-85.9},{"t":104.9,"l":"50Mb","o":-75.1},{"t":110.4,"l":"100Mb","o":-69.6},{"t":115.8,"l":"150Mb","o":-64.2},{"t":125.6,"l":"50Mb","o":-54.4},{"t":131.1,"l":"100Mb","o":-48.9},{"t":136.5,"l":"150Mb","o":-43.5},{"t":145.2,"l":"50Mb","o":-34.8},{"t":150.7,"l":"100Mb","o":-29.3},{"t":156.1,"l":"150Mb","o":-23.9},{"t":163.5,"l":"50Mb","o":-16.5},{"t":169,"l":"100Mb","o":-11},{"t":180.3,"l":"50Mb","o":0.3},{"t":185.8,"l":"100Mb","o":5.8},{"t":196.3,"l":"50Mb","o":16.3},{"t":201.8,"l":"100Mb","o":21.8},{"t":211.9,"l":"50Mb","o":31.9},{"t":217.4,"l":"100Mb","o":37.4},{"t":227.6,"l":"50Mb","o":47.6},{"t":233.1,"l":"100Mb","o":53.1},{"t":243.1,"l":"50Mb","o":63.1},{"t":248.6,"l":"100Mb","o":68.6},{"t":256.5,"l":"50Mb","o":76.5},{"t":262,"l":"100Mb","o":82},{"t":269.1,"l":"50Mb","o":89.1},{"t":281.2,"l":"50Mb","o":-78.8},{"t":292,"l":"50Mb","o":-68},{"t":302,"l":"50Mb","o":-58},{"t":311.7,"l":"50Mb","o":-48.3},{"t":319.1,"l":"50Mb","o":-40.9},{"t":325,"l":"0Mb","o":-35},{"t":331,"l":"0Mb","o":-29},{"t":339.7,"l":"50Mb","o":-20.3},{"t":345.2,"l":"100Mb","o":-14.8},{"t":350.6,"l":"150Mb","o":-9.4},{"t":357.7,"l":"50Mb","o":-2.3}]},"mark":{"type":"text","fontSize":3.5,"color":"#666","radius":85.5},"encoding":{"theta":{"field":"t","type":"quantitative","stack":null},"text":{"field":"l"},"angle":{"field":"o","type":"quantitative","scale":null}}},
{"data":{"name":"chr"},"mark":{"type":"text","fontSize":9,"color":"#222","radius":92},"encoding":{"theta":{"field":"m","type":"quantitative","stack":null},"text":{"field":"n"},"angle":{"field":"o","type":"quantitative","scale":null}}},
{"data":{"values":[{"m":307.7,"t":"E"}]},"mark":{"type":"text","fontSize":11,"fontWeight":"bold","color":"black","radius":122.6},"encoding":{"theta":{"field":"m","type":"quantitative","stack":null},"text":{"field":"t"}}}
]}
]}
